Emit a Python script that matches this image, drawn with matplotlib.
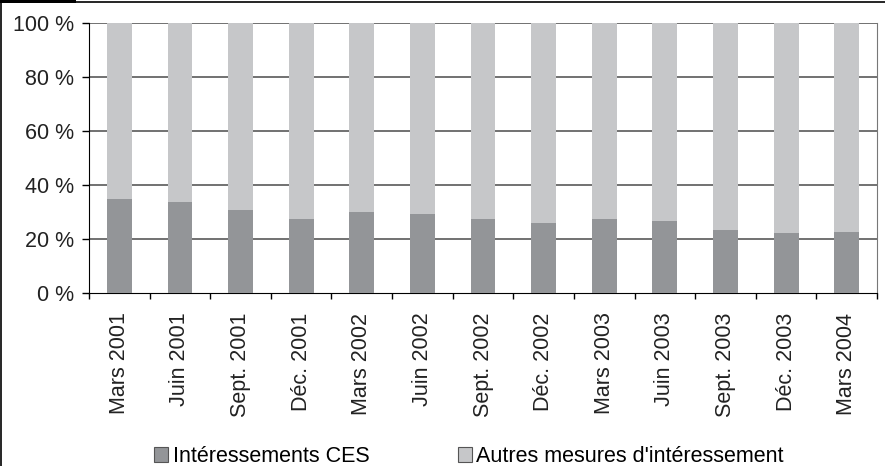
import numpy as np
import matplotlib
matplotlib.use("Agg")
import matplotlib.pyplot as plt
from matplotlib.lines import Line2D
from matplotlib.patches import Rectangle

plt.rcParams['font.family'] = ['Liberation Sans', 'DejaVu Sans']

# data
periods = ["Mars 2001", "Juin 2001", "Sept. 2001", "Déc. 2001",
           "Mars 2002", "Juin 2002", "Sept. 2002", "Déc. 2002",
           "Mars 2003", "Juin 2003", "Sept. 2003", "Déc. 2003",
           "Mars 2004"]
ces_share = [34.8, 33.8, 30.6, 27.4, 30.0, 29.4, 27.4, 26.0, 27.4, 26.7, 23.5, 22.3, 22.7]
other_share = [100 - v for v in ces_share]
series_labels = ["Intéressements CES", "Autres mesures d'intéressement"]
y_ticks = [0, 20, 40, 60, 80, 100]

dark = "#939598"
light = "#c6c7c9"
fs = 15.5

fig = plt.figure(figsize=(8.85, 4.66), dpi=100)
ax = fig.add_axes([0.1006, 0.371, 0.8904, 0.5794])

x = np.arange(len(periods))
w = 0.41
ax.bar(x, ces_share, w, color=dark, label=series_labels[0], zorder=3)
ax.bar(x, other_share, w, bottom=ces_share, color=light, label=series_labels[1], zorder=3)

ax.set_xlim(-0.5, len(periods) - 0.5)
ax.set_ylim(0, 100)
ax.set_yticks(y_ticks)
ax.set_yticklabels([f"{v} %" for v in y_ticks], fontsize=fs, color="#222222")
for v in y_ticks[1:]:
    ax.axhline(v, color="#4a4a4a", lw=1.1, zorder=1)

ax.set_xticks(x)
ax.set_xticklabels(periods, rotation=90, fontsize=fs, color="#222222")
ax.set_xticks(np.arange(len(periods) + 1) - 0.5, minor=True)
ax.tick_params(axis="x", which="major", length=0, pad=14)
ax.tick_params(axis="x", which="minor", length=4, width=1, color="black", direction="out")
ax.tick_params(axis="y", length=5, width=1, color="black", pad=6)

ax.spines["top"].set_visible(False)
ax.spines["right"].set_color("#777777")
ax.spines["left"].set_color("black")
ax.spines["bottom"].set_color("black")

fig.legend(loc="center", bbox_to_anchor=(0.530, 0.020), ncol=2, frameon=False,
           fontsize=fs, handlelength=0.65, handleheight=0.65, handletextpad=0.2,
           columnspacing=4.1, borderpad=0)
for h in fig.legends[0].legend_handles:
    h.set_edgecolor("#555555")
    h.set_linewidth(0.8)

# frame lines (top and left only) and top-left tab
fig.add_artist(Line2D([0, 1], [0.996, 0.996], transform=fig.transFigure, color="black", lw=1.2))
fig.add_artist(Line2D([0.0015, 0.0015], [0, 1], transform=fig.transFigure, color="black", lw=1.2))
fig.add_artist(Rectangle((0, 0.993), 76 / 885, 0.007, transform=fig.transFigure,
                         color="black", lw=0))

fig.savefig("out.png", dpi=100)
